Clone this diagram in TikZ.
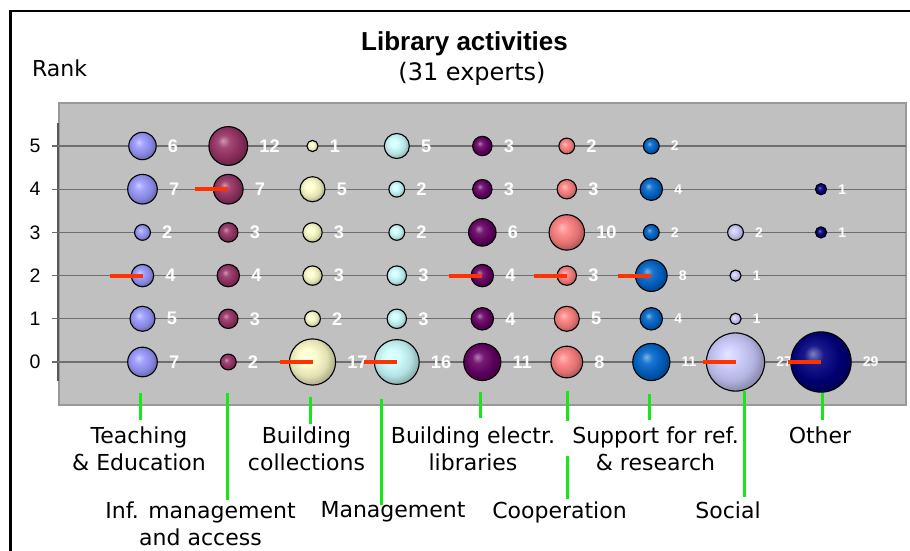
\documentclass[tikz,border=0pt]{standalone}
\usepackage{fontspec}
\setmainfont{DejaVu Sans}
\newfontfamily\chartfont{Liberation Sans}
\usetikzlibrary{positioning}

% Excel chart palette
\definecolor{cTeach}{HTML}{9999FF}
\definecolor{cInf}{HTML}{993366}
\definecolor{cColl}{HTML}{FFFFCC}
\definecolor{cMgmt}{HTML}{CCFFFF}
\definecolor{cElec}{HTML}{660066}
\definecolor{cCoop}{HTML}{FF8080}
\definecolor{cSupp}{HTML}{0066CC}
\definecolor{cSoc}{HTML}{CCCCFF}
\definecolor{cOther}{HTML}{000080}
\definecolor{plotgray}{HTML}{C0C0C0}
\definecolor{gridgray}{HTML}{6E6E6E}
\definecolor{medianred}{HTML}{FF3300}
\definecolor{leadgreen}{HTML}{19E619}

% Shaded bubble, highlight up left
\colorlet{bubcol}{black}
\pgfdeclareradialshading[bubcol]{bubble}{\pgfqpoint{-7bp}{7bp}}{%
  color(0bp)=(bubcol!50!white); color(8bp)=(bubcol!90!white);
  color(20bp)=(bubcol!88!black); color(27bp)=(bubcol!70!black);
  color(50bp)=(bubcol!70!black)}

\begin{document}
\begin{tikzpicture}[x=1pt, y=-1pt,
    bubble/.style={circle, inner sep=0pt, draw=black, line width=1.1pt,
        shade, shading=bubble, /utils/exec={\colorlet{bubcol}{#1}}},
    val/.style={inner sep=0pt, text=white, font=\chartfont\fontsize{#1}{#1}\selectfont\bfseries},
    cat/.style={inner sep=0pt, align=center, anchor=north, font=\fontsize{22}{27}\selectfont},
    ranklab/.style={inner sep=0pt, font=\chartfont\fontsize{19.5}{19.5}\selectfont},
    gridline/.style={draw=gridgray, line width=1.2pt},
    median/.style={draw=medianred, line width=4pt},
    leader/.style={draw=leadgreen, line width=3pt}]
    % Canvas in pixel units, y pointing down
    \useasboundingbox (0,0) rectangle (910,551);
    % Rank 0 line and spacing between ranks
    \def\rowzero{362}
    \def\rowgap{43.2}

    % Frame
    \draw[line width=2.5pt] (10.5,551) -- (10.5,11) -- (910,11);

    % Title and axis caption
    \node[font=\chartfont\fontsize{26}{30}\selectfont\bfseries, anchor=base] (title) at (464.5,51) {Library activities};
    \node[font=\fontsize{24}{28}\selectfont, anchor=base] (subtitle) at (472,81) {(31 experts)};
    \node[font=\fontsize{22}{26}\selectfont, anchor=base] (rank) at (59.5,77) {Rank};

    % Plot area
    \draw[fill=plotgray, draw=black!40, line width=1.2pt] (59,103) rectangle (906,405);
    \draw[draw=black!65, line width=1.5pt] (58,123) -- (58,381);

    % Rank lines and tick labels
    \foreach \r in {0,...,5} {
        \draw[gridline] (52,{\rowzero-\rowgap*\r}) -- (906,{\rowzero-\rowgap*\r});
        \node[ranklab] (y\r) at (35,{\rowzero-\rowgap*\r}) {\r};
    }

    % Bubbles: area proportional to number of experts
    \foreach \col/\x/\clr/\fs/\vals in {
        teach/142.5/cTeach/18.2/{5/6,4/7,3/2,2/4,1/5,0/7},
        infm/228.3/cInf/18.2/{5/12,4/7,3/3,2/4,1/3,0/2},
        bcoll/312.5/cColl/18.2/{5/1,4/5,3/3,2/3,1/2,0/17},
        mgmt/396.8/cMgmt/18.2/{5/5,4/2,3/2,2/3,1/3,0/16},
        belec/482.3/cElec/18.2/{5/3,4/3,3/6,2/4,1/4,0/11},
        coop/566.8/cCoop/18.2/{5/2,4/3,3/10,2/3,1/5,0/8},
        supp/651.3/cSupp/14/{5/2,4/4,3/2,2/8,1/4,0/11},
        social/735.5/cSoc/14/{3/2,2/1,1/1,0/27},
        other/821/cOther/14/{4/1,3/1,0/29}} {
        \foreach \r/\v in \vals {
            \pgfmathsetmacro{\d}{11.2*sqrt(\v)}
            \node[bubble=\clr, minimum size=\d pt] (\col-\r) at (\x,{\rowzero-\rowgap*\r}) {};
            \node[val=\fs, right=11pt of \col-\r] (\col-\r-v) {\v};
        }
    }

    % Median marks
    \foreach \m in {teach-2, infm-4, bcoll-0, mgmt-0, belec-2, coop-2, supp-2, social-0, other-0}
        \draw[median] (\m.center) -- ++(-33,0);

    % Category labels
    \node[cat] (teach) at (139,426.3) {Teaching\\\& Education};
    \node[cat] (infm) at (200.5,501.3) {Inf. management\\and access};
    \node[cat] (bcoll) at (306.5,426.3) {Building\\collections};
    \node[cat] (mgmt) at (393,501.3) {Management};
    \node[cat] (belec) at (473,426.3) {Building electr.\\libraries};
    \node[cat] (coop) at (559.5,501.3) {Cooperation};
    \node[cat] (supp) at (655.5,426.3) {Support for ref.\\\& research};
    \node[cat] (social) at (728,501.3) {Social};
    \node[cat] (other) at (820,426.3) {Other};

    % Leaders from the plot to the labels
    \foreach \col/\gx/\gy/\gap in {teach/140.5/393/6, infm/227.5/393/1, bcoll/310.7/397/2,
        mgmt/381/399/-4, belec/480.7/392/8, supp/649/394/6, social/744.7/391/4, other/822.7/393/6} {
        \coordinate (\col-tick) at (\gx,\gy);
        \draw[leader, shorten >=\gap pt] (\col-tick) -- (\col-tick |- \col.north);
    }
    \coordinate (coop-tick) at (567,391);
    \draw[leader] (coop-tick) -- ++(0,30);
    \draw[leader, shorten >=2pt] (coop-tick) ++(0,65) -- (coop-tick |- coop.north);
\end{tikzpicture}
\end{document}
